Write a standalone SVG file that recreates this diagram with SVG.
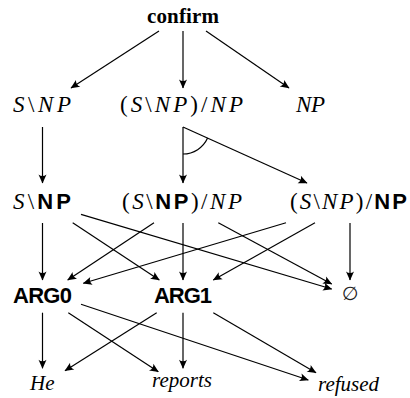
<svg xmlns="http://www.w3.org/2000/svg" width="410" height="398" viewBox="0 0 410 398">
<defs>
<marker id="ah" viewBox="-10 -5 11 10" refX="0" refY="0" markerWidth="11" markerHeight="10" markerUnits="userSpaceOnUse" orient="auto">
<path d="M0.5,0 L-8.5,-4 Q-5.5,0 -8.5,4 Z" fill="#000"/>
</marker>
<style>
.e{stroke:#000;stroke-width:1.2;fill:none;marker-end:url(#ah)}
.arc{stroke:#000;stroke-width:1.2;fill:none}
.m{font-family:"Liberation Serif",serif;font-size:23px;fill:#000}
.i{font-style:italic}
.b{font-family:"Liberation Sans",sans-serif;font-weight:bold;font-size:22px}
.w{font-family:"Liberation Serif",serif;font-weight:bold;font-size:21px}
.sf{font-family:"Liberation Sans",sans-serif;font-weight:bold;font-size:22px}
.t{font-family:"Liberation Serif",serif;font-style:italic;font-size:21px}
</style>
</defs>
<rect width="410" height="398" fill="#fff"/>
<g id="edges">
<line class="e" x1="159" y1="31" x2="71" y2="88"/>
<line class="e" x1="183" y1="31" x2="183" y2="88"/>
<line class="e" x1="206" y1="31" x2="289" y2="88"/>
<line class="e" x1="42.5" y1="127" x2="42.5" y2="183"/>
<line class="e" x1="183" y1="127" x2="183" y2="183"/>
<line class="e" x1="183" y1="127" x2="307" y2="183"/>
<path class="arc" d="M183,154 A27,27 0 0 0 207.6,138.1"/>
<line class="e" x1="42.5" y1="223" x2="42.5" y2="280"/>
<line class="e" x1="81" y1="214.3" x2="331.7" y2="289"/>
<line class="e" x1="72.7" y1="222.7" x2="159.3" y2="280"/>
<line class="e" x1="154" y1="222.7" x2="67.7" y2="280"/>
<line class="e" x1="183" y1="223" x2="183" y2="280"/>
<line class="e" x1="218.3" y1="222.7" x2="331.7" y2="284"/>
<line class="e" x1="286" y1="222.7" x2="83.3" y2="283.3"/>
<line class="e" x1="315" y1="222.7" x2="213.3" y2="280"/>
<line class="e" x1="350" y1="223" x2="350" y2="280"/>
<line class="e" x1="42.5" y1="312.7" x2="42.5" y2="368.3"/>
<line class="e" x1="68.3" y1="312.7" x2="158.3" y2="371.7"/>
<line class="e" x1="81" y1="304.3" x2="308.3" y2="380"/>
<line class="e" x1="156.7" y1="312.7" x2="65" y2="370.7"/>
<line class="e" x1="183" y1="312.7" x2="183" y2="368.3"/>
<line class="e" x1="213.3" y1="312.7" x2="316" y2="372.7"/>
</g>
<g id="confirm"><text class="w" x="147" y="22.5" textLength="72">confirm</text></g>
<g id="snp1"><text class="m" x="13" y="112" textLength="58"><tspan class="i">S</tspan>\<tspan class="i">NP</tspan></text></g>
<g id="snpnp1"><text class="m" x="120" y="112" textLength="123">(<tspan class="i">S</tspan>\<tspan class="i">NP</tspan>)/<tspan class="i">NP</tspan></text></g>
<g id="np1"><text class="m i" x="296" y="112" textLength="29">NP</text></g>
<g id="snp2"><text class="m" x="13" y="209" textLength="58"><tspan class="i">S</tspan>\<tspan class="b">NP</tspan></text></g>
<g id="snpnp2"><text class="m" x="122" y="209" textLength="120">(<tspan class="i">S</tspan>\<tspan class="b">NP</tspan>)/<tspan class="i">NP</tspan></text></g>
<g id="snpnp3"><text class="m" x="290" y="209" textLength="117">(<tspan class="i">S</tspan>\<tspan class="i">NP</tspan>)/<tspan class="b">NP</tspan></text></g>
<g id="arg0"><text class="sf" x="13" y="303" textLength="59">ARG0</text></g>
<g id="arg1"><text class="sf" x="154" y="303" textLength="58">ARG1</text></g>
<g id="empty"><text x="350" y="300" text-anchor="middle" font-family="DejaVu Sans, sans-serif" font-size="19" fill="#222">∅</text></g>
<g id="he"><text class="t" x="30" y="390">He</text></g>
<g id="reports"><text class="t" x="152" y="387">reports</text></g>
<g id="refused"><text class="t" x="318" y="391">refused</text></g>
</svg>
